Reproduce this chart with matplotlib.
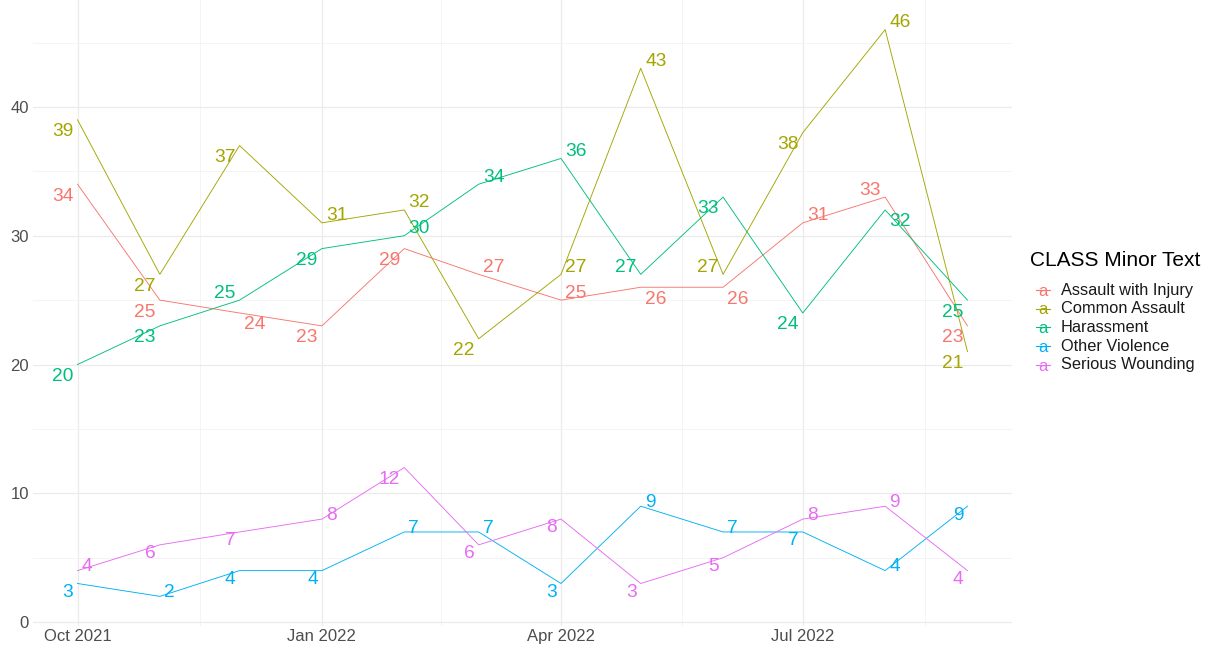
import matplotlib
matplotlib.use('Agg')
import matplotlib.pyplot as plt
import matplotlib.dates as mdates
import pandas as pd
from matplotlib.lines import Line2D

plt.rcParams['font.family'] = ['Liberation Sans', 'DejaVu Sans']

# ---- data ----
months = pd.date_range('2021-10-01', periods=12, freq='MS')
categories = ['Assault with Injury', 'Common Assault', 'Harassment',
              'Other Violence', 'Serious Wounding']
assault_with_injury = [34, 25, 24, 23, 29, 27, 25, 26, 26, 31, 33, 23]
common_assault      = [39, 27, 37, 31, 32, 22, 27, 43, 27, 38, 46, 21]
harassment          = [20, 23, 25, 29, 30, 34, 36, 27, 33, 24, 32, 25]
other_violence      = [3, 2, 4, 4, 7, 7, 3, 9, 7, 7, 4, 9]
serious_wounding    = [4, 6, 7, 8, 12, 6, 8, 3, 5, 8, 9, 4]
series = [assault_with_injury, common_assault, harassment,
          other_violence, serious_wounding]

# label nudge directions (-1 left / +1 right ; +1 up / -1 down)
label_dx = [
    [-1, -1, 1, -1, -1, 1, 1, 1, 1, 1, -1, -1],
    [-1, -1, -1, 1, 1, -1, 1, 1, -1, -1, 1, -1],
    [-1, -1, -1, -1, 1, 1, 1, -1, -1, -1, 1, -1],
    [-1, 1, -1, -1, 1, 1, -1, 1, 1, -1, 1, -1],
    [1, -1, -1, 1, -1, -1, -1, -1, -1, 1, 1, -1],
]
label_dy = [
    [-1, -1, -1, -1, -1, 1, 1, -1, -1, 1, 1, -1],
    [-1, -1, -1, 1, 1, -1, 1, 1, 1, -1, 1, -1],
    [-1, -1, 1, -1, 1, 1, 1, 1, -1, -1, -1, -1],
    [-1, 1, -1, -1, 1, 1, -1, 1, 1, -1, 1, -1],
    [1, -1, -1, 1, -1, -1, -1, -1, -1, 1, 1, -1],
]

colors = ['#F8766D', '#A3A500', '#00BF7D', '#00B0F6', '#E76BF3']

W, H = 1214, 648
fig = plt.figure(figsize=(W / 100, H / 100), dpi=100)
ax = fig.add_axes([33 / W, 1 - 626 / H, (1012 - 33) / W, 626 / H])

label_fs = 13.8
for vals, col, dxs, dys in zip(series, colors, label_dx, label_dy):
    ax.plot(months, vals, color=col, lw=0.65, zorder=3)
    for d, v, sx, sy in zip(months, vals, dxs, dys):
        txt = str(v)
        if len(txt) >= 2:
            ox, oy = 10.8, 6.8
        else:
            ox, oy = 6.8, 4.6
        ax.annotate(txt, (d, v), xytext=(sx * ox, sy * oy - 5.0),
                    textcoords='offset points', ha='center', va='baseline',
                    color=col, fontsize=label_fs, zorder=4)

# scales
span = (months[-1] - months[0])
pad = span * 0.05
ax.set_xlim(months[0] - pad, months[-1] + pad)
ax.set_ylim(-0.3, 48.3)

major = pd.to_datetime(['2021-10-01', '2022-01-01', '2022-04-01', '2022-07-01'])
ext = list(major) + [pd.Timestamp('2022-10-01')]
minor = [ext[i] + (ext[i + 1] - ext[i]) / 2 for i in range(len(ext) - 1)]
ax.set_xticks(major)
ax.set_xticklabels([d.strftime('%b %Y') for d in major])
ax.set_xticks(minor, minor=True)
ax.set_yticks([0, 10, 20, 30, 40])
ax.set_yticks([5, 15, 25, 35, 45], minor=True)

ax.grid(which='major', color='#EBEBEB', lw=0.9)
ax.grid(which='minor', color='#F2F2F2', lw=0.6)
ax.set_axisbelow(True)
for s in ax.spines.values():
    s.set_visible(False)
ax.tick_params(which='both', length=0)
ax.tick_params(axis='y', labelsize=12, labelcolor='#4D4D4D', pad=3)
ax.tick_params(axis='x', labelsize=12, labelcolor='#4D4D4D', pad=2)

# legend (ggplot style keys)
fig.text(1030 / W, 1 - 260 / H, 'CLASS Minor Text', fontsize=15,
         va='center', ha='left', color='black')
for i, (name, col) in enumerate(zip(categories, colors)):
    yc = 290 + i * 18.7
    yf = 1 - yc / H
    fig.add_artist(Line2D([1036 / W, 1050 / W], [yf, yf], color=col, lw=0.8,
                          transform=fig.transFigure))
    fig.text(1043 / W, yf - 0.002, 'a', color=col, fontsize=12,
             ha='center', va='center')
    fig.text(1061 / W, yf, name, fontsize=11.8, ha='left', va='center',
             color='#1A1A1A')

fig.savefig('out.png', dpi=100)
